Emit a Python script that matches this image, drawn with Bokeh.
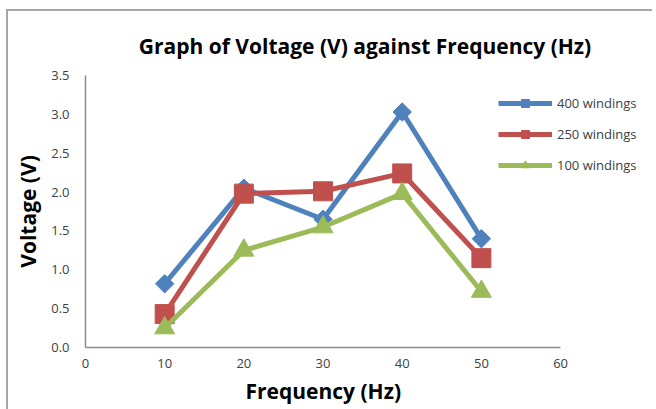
from bokeh.plotting import figure
from bokeh.models import Legend, LegendItem, FixedTicker, NumeralTickFormatter, Range1d, Title
from bokeh.embed import file_html
from bokeh.resources import INLINE
import math

# ---- data ----
frequency = [10, 20, 30, 40, 50]
v400 = [0.82, 2.05, 1.65, 3.03, 1.40]
v250 = [0.43, 1.98, 2.01, 2.24, 1.15]
v100 = [0.25, 1.25, 1.55, 1.98, 0.72]
series_names = ["400 windings", "250 windings", "100 windings"]
x_ticks = [0, 10, 20, 30, 40, 50, 60]
y_ticks = [0.0, 0.5, 1.0, 1.5, 2.0, 2.5, 3.0, 3.5]

BLUE = "#4F81BD"
RED = "#C0504D"
GREEN = "#9BBB59"
FONT = "Open Sans"

p = figure(frame_width=559, frame_height=272, output_backend="svg", toolbar_location=None,
           x_range=Range1d(0, 70.6), y_range=Range1d(0, 3.5),
           min_border_left=77, min_border_right=8, min_border_top=64, min_border_bottom=60)
p.styles = {"margin-left": "6px", "margin-top": "9px",
            "border-left": "2px solid #a6a6a6", "border-top": "2px solid #a6a6a6"}

p.title.text = "Graph of Voltage (V) against Frequency (Hz)"
p.title.text_font = FONT
p.title.text_font_size = "21px"
p.title.text_font_style = "bold"
p.title.text_color = "#000000"
p.title.align = "center"
p.title.standoff = 31

p.outline_line_color = None
p.xgrid.grid_line_color = None
p.ygrid.grid_line_color = None

for ax in (p.xaxis[0], p.yaxis[0]):
    ax.axis_line_color = "#8c8c8c"
    ax.axis_line_width = 1.5
    ax.major_tick_line_color = None
    ax.minor_tick_line_color = None
    ax.major_label_text_font = FONT
    ax.major_label_text_font_size = "13px"
    ax.major_label_text_color = "#404040"
    ax.axis_label_text_font = FONT
    ax.axis_label_text_font_size = "21px"
    ax.axis_label_text_font_style = "bold"
    ax.axis_label_text_color = "#000000"

p.xaxis.ticker = FixedTicker(ticks=x_ticks)
p.yaxis.ticker = FixedTicker(ticks=y_ticks)
p.xaxis.bounds = (0, 60)
p.yaxis.formatter = NumeralTickFormatter(format="0.0")
p.yaxis.axis_label = "Voltage (V)"
p.xaxis.major_label_standoff = 5
p.yaxis.major_label_standoff = 10
p.yaxis.axis_label_standoff = 6

xlabel = Title(text="Frequency (Hz)", align="left", offset=160, standoff=9,
               text_font=FONT, text_font_size="21px", text_font_style="bold",
               text_color="#000000")
p.add_layout(xlabel, "below")

l1 = p.line(frequency, v400, line_color=BLUE, line_width=5)
m1 = p.scatter(frequency, v400, marker="square", angle=math.pi / 4, size=13,
               fill_color=BLUE, line_color=BLUE)
l2 = p.line(frequency, v250, line_color=RED, line_width=5)
m2 = p.scatter(frequency, v250, marker="square", size=19, fill_color=RED, line_color=RED)
l3 = p.line(frequency, v100, line_color=GREEN, line_width=5)
m3 = p.scatter(frequency, v100, marker="triangle", size=20, fill_color=GREEN, line_color=GREEN)

items = [LegendItem(label=series_names[0], renderers=[l1, m1]),
         LegendItem(label=series_names[1], renderers=[l2, m2]),
         LegendItem(label=series_names[2], renderers=[l3, m3])]
legend = Legend(items=items, location=(413, 172))
legend.border_line_color = None
legend.background_fill_alpha = 0
legend.glyph_width = 54
legend.glyph_height = 20
legend.spacing = 11
legend.padding = 0
legend.margin = 0
legend.label_standoff = 5
legend.label_text_font = FONT
legend.label_text_font_size = "13px"
legend.label_text_color = "#404040"
p.add_layout(legend, "center")

open("out.html", "w").write(file_html(p, INLINE))
